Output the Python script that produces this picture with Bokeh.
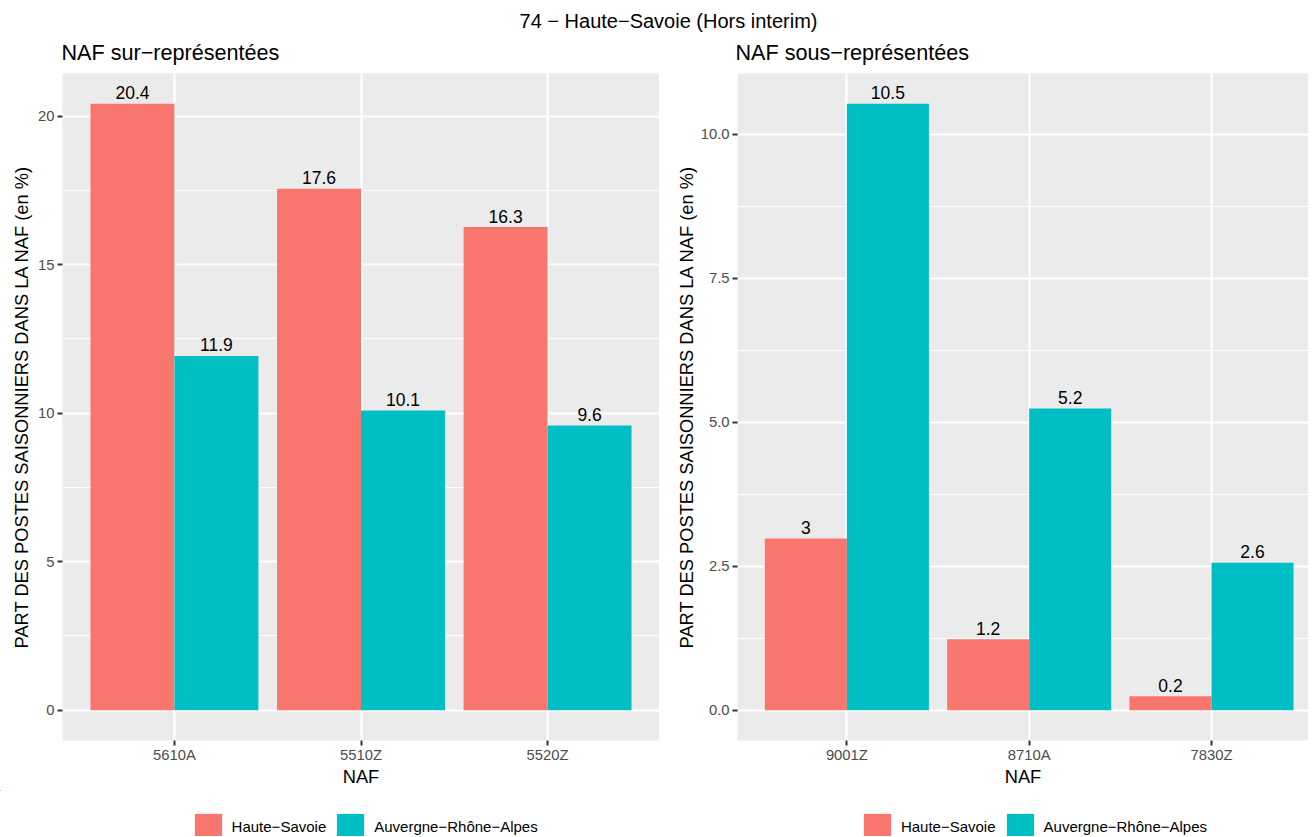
from bokeh.plotting import figure
from bokeh.models import (Range1d, FixedTicker, SingleIntervalTicker, ColumnDataSource,
                          Legend, LegendItem, Label, PrintfTickFormatter)
from bokeh.layouts import column, row
from bokeh.transform import dodge
from bokeh.embed import file_html
from bokeh.resources import INLINE
from bokeh.core.properties import value

# ---- data ----
main_title = "74 − Haute−Savoie (Hors interim)"
title_sur = "NAF sur−représentées"
title_sous = "NAF sous−représentées"
series_names = ["Haute−Savoie", "Auvergne−Rhône−Alpes"]

naf_sur = ["5610A", "5510Z", "5520Z"]
sur_hs = [20.42, 17.56, 16.27]
sur_ara = [11.93, 10.09, 9.59]

naf_sous = ["9001Z", "8710A", "7830Z"]
sous_hs = [2.98, 1.23, 0.24]
sous_ara = [10.53, 5.24, 2.56]

y_title = "PART DES POSTES SAISONNIERS DANS LA NAF (en %)"
x_title = "NAF"

RED = "#F8766D"
CYAN = "#00BFC4"
FONT = "Liberation Sans"
HEAD_H = 73
FRAME_H = 667
BOTTOM_B = 50
FOOT_H = 836 - HEAD_H - FRAME_H - BOTTOM_B
TOTAL_W = 1308


def lab(v):
    return f"{round(v, 1):g}"


def make_source(cats, hs, ara):
    pos = list(range(1, len(cats) + 1))
    return ColumnDataSource(dict(pos=pos, naf=cats, hs=hs, ara=ara,
                                 hs_lab=[lab(v) for v in hs],
                                 ara_lab=[lab(v) for v in ara]))


src_sur = make_source(naf_sur, sur_hs, sur_ara)
src_sous = make_source(naf_sous, sous_hs, sous_ara)


def make_panel(src, cats, hs, ara, frame_w, x_end, interval, fmt, border_left,
               label_standoff_y):
    pos = list(range(1, len(cats) + 1))
    ymax = max(max(hs), max(ara))
    y0, y1 = -0.05 * ymax, 1.05 * ymax
    px_per_unit = FRAME_H / (y1 - y0)
    p = figure(frame_width=frame_w, frame_height=FRAME_H,
               x_range=Range1d(0.4, x_end),
               y_range=Range1d(y0, y1),
               toolbar_location=None, output_backend="svg",
               min_border_left=border_left, min_border_right=0,
               min_border_top=0, min_border_bottom=BOTTOM_B)
    p.background_fill_color = "#EBEBEB"
    p.border_fill_color = "white"
    p.outline_line_color = None

    p.vbar(x=dodge("pos", -0.225, range=p.x_range), top="hs", bottom=0,
           width=0.45, source=src, fill_color=RED, line_color=None)
    p.vbar(x=dodge("pos", 0.225, range=p.x_range), top="ara", bottom=0,
           width=0.45, source=src, fill_color=CYAN, line_color=None)
    for xo, col in ((-0.225, "hs"), (0.225, "ara")):
        p.text(x=dodge("pos", xo, range=p.x_range),
               y=dodge(col, 11.0 / px_per_unit, range=p.y_range),
               text=col + "_lab", source=src, text_align="center",
               text_baseline="alphabetic", text_font=value(FONT),
               text_font_size="17.5px", text_color="black")

    # axes
    p.xaxis.ticker = FixedTicker(ticks=pos)
    p.xaxis.major_label_overrides = {k: c for k, c in zip(pos, cats)}
    p.yaxis.ticker = SingleIntervalTicker(interval=interval, num_minor_ticks=2)
    if fmt:
        p.yaxis.formatter = PrintfTickFormatter(format=fmt)
    for ax in (p.xaxis[0], p.yaxis[0]):
        ax.axis_line_color = None
        ax.major_tick_in = 0
        ax.major_tick_out = 5
        ax.major_tick_line_color = "#333333"
        ax.major_tick_line_width = 2
        ax.minor_tick_line_color = None
        ax.major_label_text_font = FONT
        ax.major_label_text_font_size = "14.8px"
        ax.major_label_text_color = "#4D4D4D"
        ax.axis_label_text_font = FONT
        ax.axis_label_text_font_size = "18.3px"
        ax.axis_label_text_font_style = "normal"
        ax.axis_label_text_color = "black"
    p.xaxis.axis_label = x_title
    p.yaxis.axis_label = y_title
    p.xaxis.major_label_standoff = 1
    p.xaxis.axis_label_standoff = 0
    p.yaxis.major_label_standoff = 3
    p.yaxis.axis_label_standoff = label_standoff_y

    # grid
    p.xgrid.grid_line_color = "white"
    p.xgrid.grid_line_width = 2.2
    p.ygrid.grid_line_color = "white"
    p.ygrid.grid_line_width = 2.2
    p.ygrid.minor_grid_line_color = "white"
    p.ygrid.minor_grid_line_width = 1.1
    return p


left = make_panel(src_sur, naf_sur, sur_hs, sur_ara, 597, 3.6, 5, None, 62, 3)
right = make_panel(src_sous, naf_sous, sous_hs, sous_ara, 571, 0.4 + 571 / 182.3, 2.5,
                   "%.1f", 78, 1)

# ---- header with titles ----
header = figure(width=TOTAL_W, height=HEAD_H, x_range=Range1d(0, TOTAL_W),
                y_range=Range1d(0, HEAD_H), x_axis_type=None, y_axis_type=None,
                toolbar_location=None, output_backend="svg", min_border=0,
                outline_line_color=None)
header.grid.visible = False
header.add_layout(Label(x=668, y=52.7, text=main_title, text_align="center",
                        text_baseline="alphabetic", text_font=FONT,
                        text_font_size="20px", text_color="black"))
header.add_layout(Label(x=61, y=20.7, text=title_sur, text_align="left",
                        text_baseline="alphabetic", text_font=FONT,
                        text_font_size="21.6px", text_color="black"))
header.add_layout(Label(x=735, y=20.7, text=title_sous, text_align="left",
                        text_baseline="alphabetic", text_font=FONT,
                        text_font_size="21.6px", text_color="black"))

# ---- footer holding the two legends (its view range lies away from the bars) ----
footer = figure(width=TOTAL_W, height=FOOT_H, x_range=Range1d(100, 101),
                y_range=Range1d(-200, -100), x_axis_type=None, y_axis_type=None,
                toolbar_location=None, output_backend="svg", min_border=0,
                outline_line_color=None)
footer.grid.visible = False
legend_x = (190.6, 859.9)
for src, lx in ((src_sur, legend_x[0]), (src_sous, legend_x[1])):
    k_hs = footer.vbar(x="pos", top="hs", bottom=0, width=0.45, source=src,
                       fill_color=RED, line_color=None)
    k_ara = footer.vbar(x="pos", top="ara", bottom=0, width=0.45, source=src,
                        fill_color=CYAN, line_color=None)
    lg = Legend(items=[LegendItem(label=series_names[0], renderers=[k_hs]),
                       LegendItem(label=series_names[1], renderers=[k_ara])],
                orientation="horizontal",
                location=(lx, FOOT_H - 34 - (809.6 - (836 - FOOT_H))),
                glyph_width=34, glyph_height=34, label_standoff=7, spacing=7,
                padding=0, margin=0, border_line_color=None,
                background_fill_alpha=0, label_text_font=FONT,
                label_text_font_size="15px", label_text_color="black")
    footer.add_layout(lg, "center")

layout = column(header, row(left, right, spacing=0), footer, spacing=0)
open("out.html", "w").write(file_html(layout, INLINE))
